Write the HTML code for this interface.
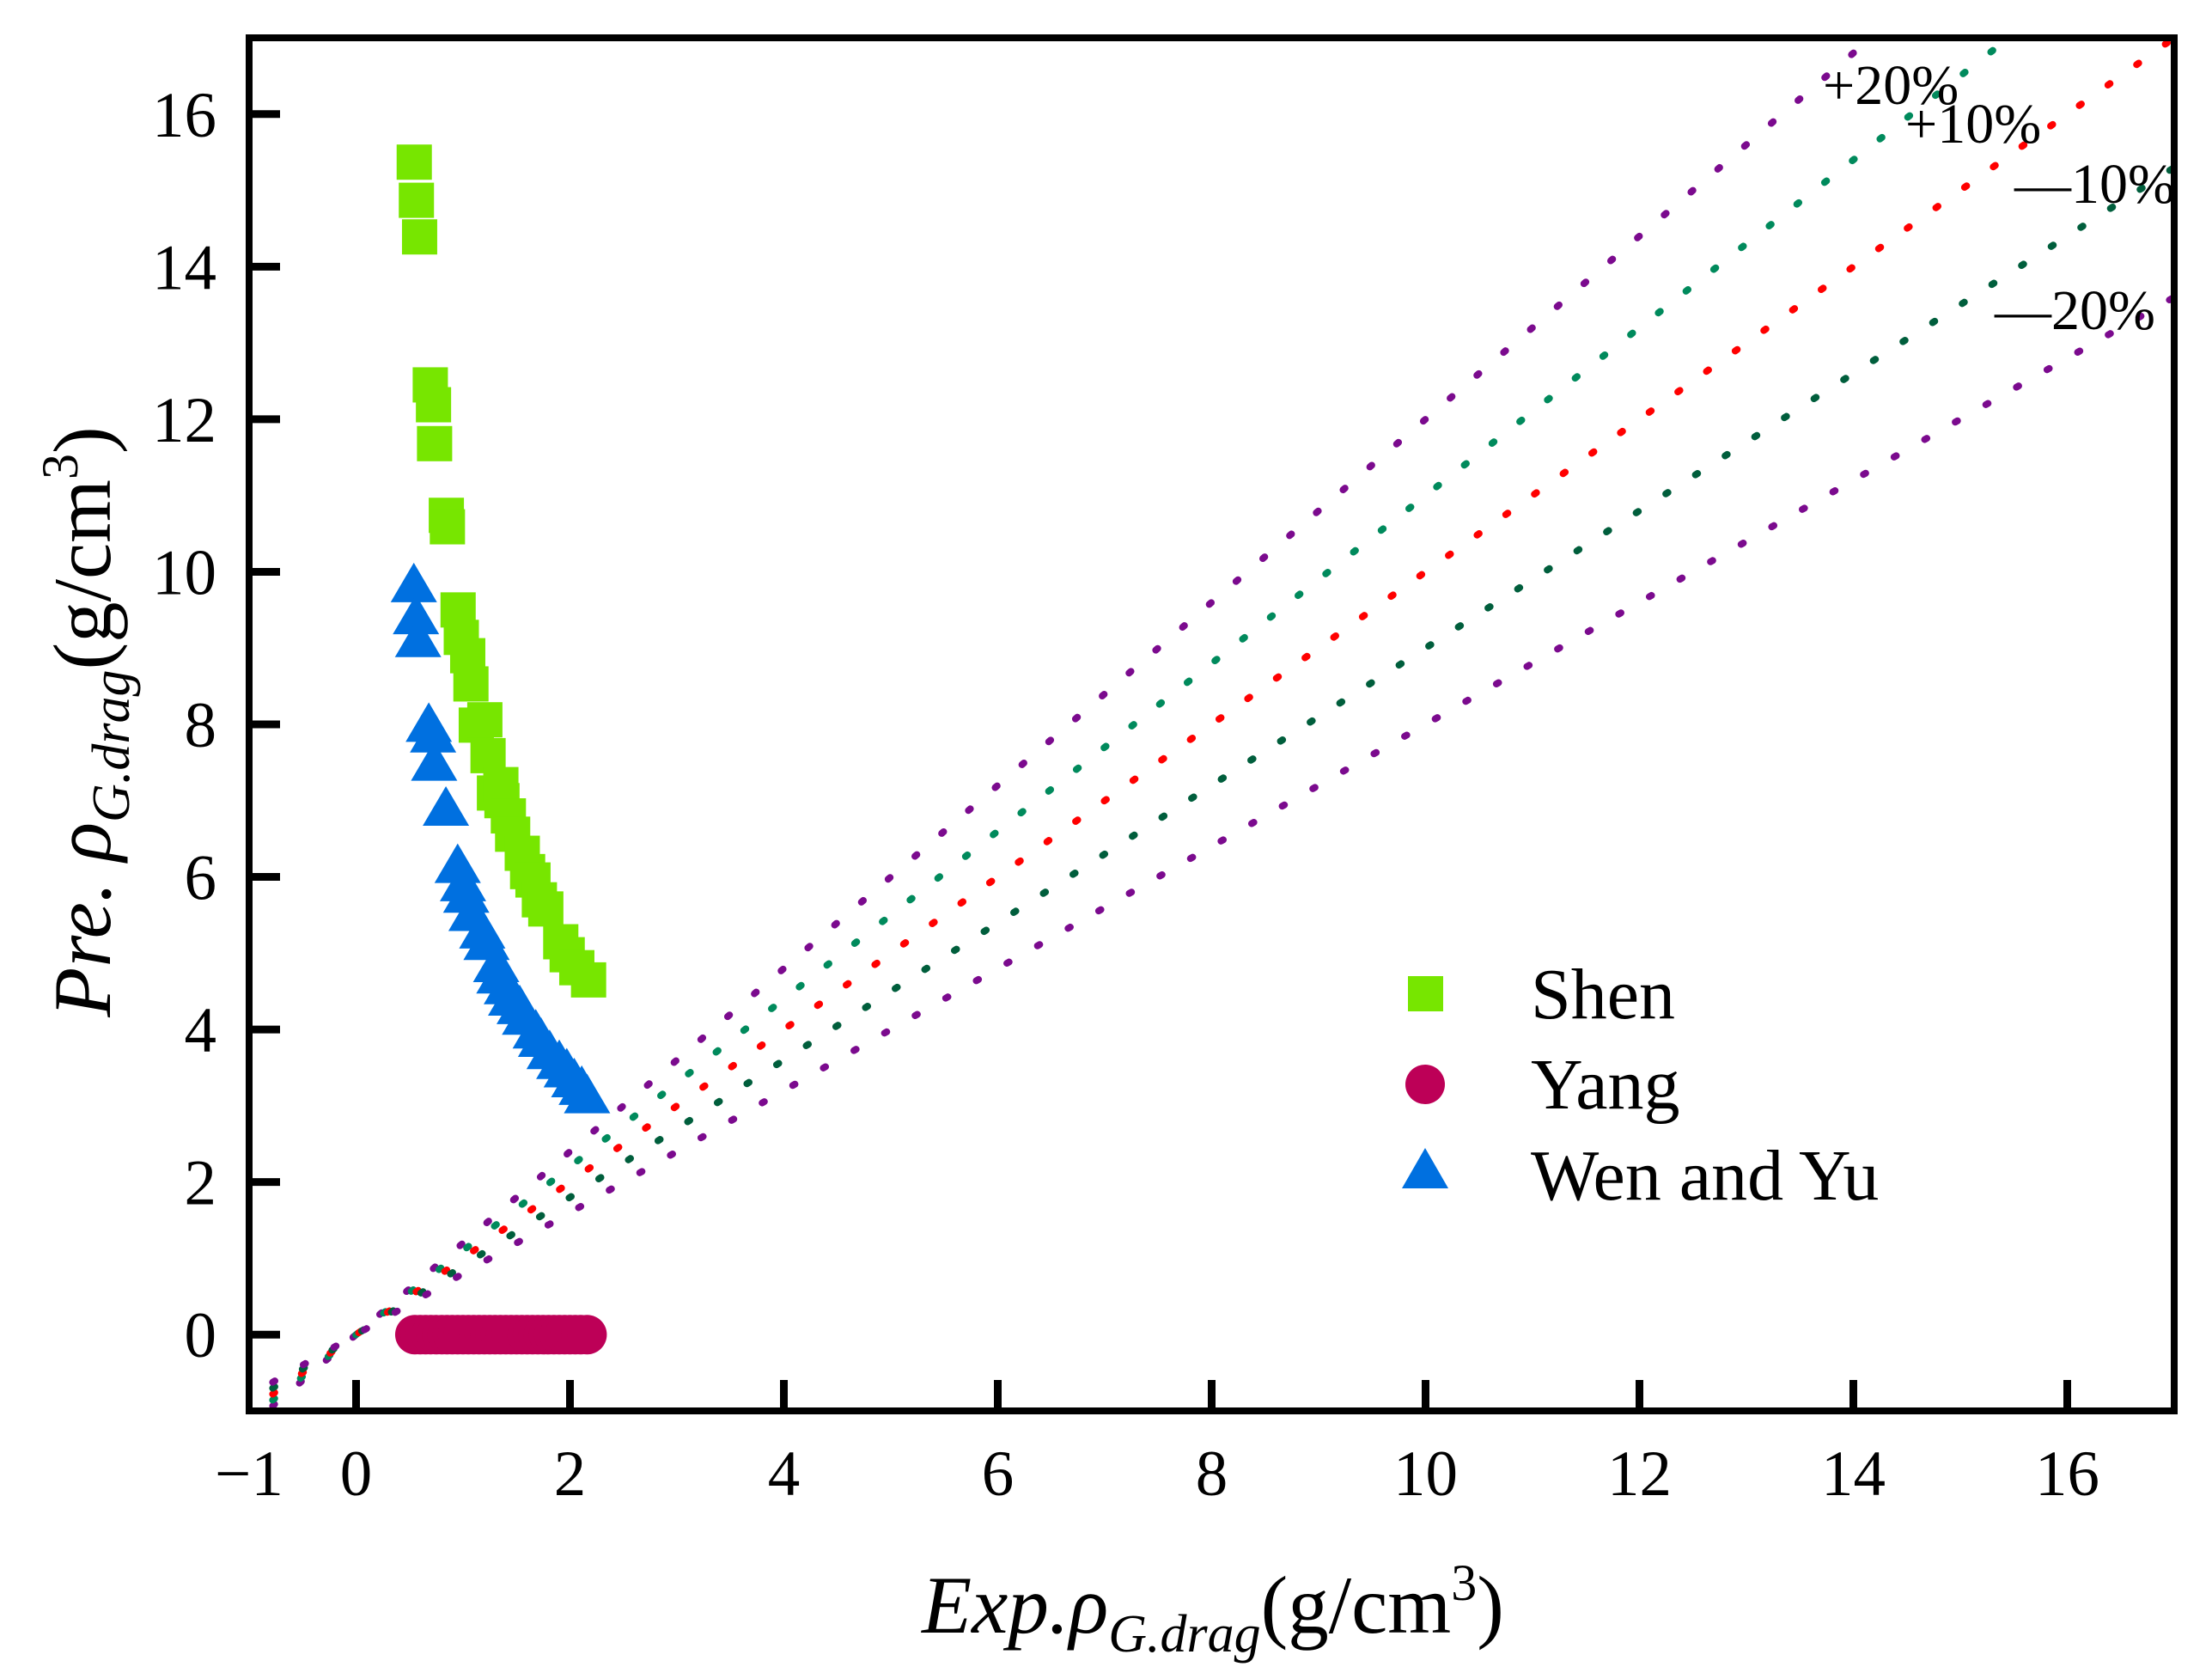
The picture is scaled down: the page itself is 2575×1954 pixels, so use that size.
<!DOCTYPE html>
<html><head><meta charset="utf-8"><style>
html,body{margin:0;padding:0;background:#fff;}
svg{display:block;font-family:"Liberation Serif",serif;}
</style></head><body>
<svg id="chart" width="2575" height="1954" viewBox="0 0 2575 1954" xmlns="http://www.w3.org/2000/svg">
<defs><clipPath id="plotclip"><rect x="290" y="44" width="2241" height="1598"/></clipPath></defs>
<g id="reflines" clip-path="url(#plotclip)"></g>
<g id="marks"></g>
<g id="axes"></g>
<text x="2122" y="121" font-size="66">+20%</text>
<text x="2218" y="166" font-size="66">+10%</text>
<text x="2345" y="236" font-size="66">—10%</text>
<text x="2322" y="383" font-size="66">—20%</text>
<g>
<rect x="1639" y="1136" width="41" height="41" fill="#77e600"/>
<text x="1782" y="1185" font-size="84">Shen</text>
<ellipse cx="1659" cy="1262" rx="23" ry="23" fill="#bd0057"/>
<text x="1782" y="1290" font-size="84">Yang</text>
<polygon points="1659,1336 1686,1383 1632,1383" fill="#0070e0"/>
<text x="1782" y="1396" font-size="84">Wen and Yu</text>
</g>
<text x="1412" y="1900" font-size="95" text-anchor="middle"><tspan font-style="italic">Exp.ρ</tspan><tspan font-style="italic" font-size="62" dy="22">G.drag</tspan><tspan dy="-22">(g/cm</tspan><tspan font-size="60" dy="-38">3</tspan><tspan dy="38">)</tspan></text>
<text transform="translate(128,840) rotate(-90)" font-size="95" text-anchor="middle"><tspan font-style="italic">Pre. ρ</tspan><tspan font-style="italic" font-size="62" dy="22">G.drag</tspan><tspan dy="-22">(g/cm</tspan><tspan font-size="60" dy="-38">3</tspan><tspan dy="38">)</tspan></text>
</svg>
<script>
const xTicks = [-1,0,2,4,6,8,10,12,14,16];
const xTickLabels = ["−1","0","2","4","6","8","10","12","14","16"];
const yTicks = [0,2,4,6,8,10,12,14,16];
const yTickLabels = ["0","2","4","6","8","10","12","14","16"];
const refFactors = [1.2,1.1,1.0,0.9,0.8];
const refColors = ["#7b0a8e","#008a5c","#ff0000","#005e3c","#7b0a8e"];
const shenX = [0.54,0.56,0.59,0.69,0.72,0.73,0.84,0.85,0.95,0.98,1.04,1.07,1.12,1.20,1.23,1.29,1.35,1.36,1.42,1.46,1.55,1.60,1.65,1.71,1.77,1.91,1.97,2.06,2.17];
const shenY = [15.37,14.87,14.39,12.45,12.19,11.68,10.74,10.59,9.50,9.14,8.90,8.53,7.99,8.06,7.59,7.10,7.21,7.00,6.80,6.56,6.31,6.07,5.96,5.70,5.58,5.15,4.98,4.81,4.65];
const yangX = [0.55,0.60,0.65,0.70,0.75,0.80,0.85,0.90,0.95,1.00,1.05,1.10,1.15,1.20,1.25,1.30,1.35,1.40,1.45,1.50,1.55,1.60,1.65,1.70,1.75,1.80,1.85,1.90,1.95,2.00,2.05,2.10,2.16];
const yangY = [0,0,0,0,0,0,0,0,0,0,0,0,0,0,0,0,0,0,0,0,0,0,0,0,0,0,0,0,0,0,0,0,0];
const wenX = [0.54,0.56,0.58,0.68,0.72,0.73,0.84,0.95,1.00,1.03,1.08,1.18,1.22,1.31,1.34,1.41,1.45,1.53,1.58,1.68,1.73,1.81,1.90,1.97,2.04,2.11,2.16];
const wenY = [9.86,9.44,9.14,8.03,7.89,7.52,6.93,6.18,5.94,5.79,5.55,5.32,5.17,4.88,4.73,4.59,4.44,4.33,4.19,4.01,3.90,3.74,3.61,3.50,3.37,3.27,3.16];

const X0=290, X1=2531, Y0=1642, Y1=44, xmin=-1, xmax=17, ymin=-1, ymax=17;
function sx(v){return X0+(v-xmin)/(xmax-xmin)*(X1-X0);}
function sy(v){return Y0-(v-ymin)/(ymax-ymin)*(Y0-Y1);}
const NS="http://www.w3.org/2000/svg";
function mk(tag,attrs,parent){const e=document.createElementNS(NS,tag);for(const k in attrs)e.setAttribute(k,attrs[k]);parent.appendChild(e);return e;}
const ref=document.getElementById('reflines'), marks=document.getElementById('marks'), axes=document.getElementById('axes');
refFactors.forEach((f,i)=>{
  const l=mk('line',{x1:sx(-0.78),y1:sy(-0.78*f),x2:sx(17.5),y2:sy(17.5*f),stroke:refColors[i],'stroke-width':8,'stroke-linecap':'round','stroke-dasharray':'3 38'},ref);
  
  
});
yangX.forEach((v,i)=>{
  const c=mk('ellipse',{cx:sx(v),cy:sy(yangY[i]),rx:23,ry:23,fill:'#bd0057'},marks);
  
  
});
wenX.forEach((v,i)=>{
  const x=sx(v), y=sy(wenY[i]);
  const p=mk('polygon',{points:`${x},${y-23} ${x+27},${y+23} ${x-27},${y+23}`,fill:'#0070e0'},marks);
  
  
});
shenX.forEach((v,i)=>{
  const r=mk('rect',{x:sx(v)-20,y:sy(shenY[i])-20.5,width:41,height:41,fill:'#77e600'},marks);
  
  
});
const fr=mk('rect',{x:X0,y:Y1,width:X1-X0,height:Y0-Y1,fill:'none',stroke:'#000','stroke-width':8},axes);


xTicks.forEach((v,i)=>{
  const x=sx(v);
  if(v>xmin){const t=mk('line',{x1:x,y1:Y0,x2:x,y2:Y0-36,stroke:'#000','stroke-width':9},axes);
  
  }
  const tx=mk('text',{x:x,y:1740,'font-size':75,'text-anchor':'middle'},axes);
  tx.textContent=xTickLabels[i];
  
  
});
yTicks.forEach((v,i)=>{
  const y=sy(v);
  const t=mk('line',{x1:X0,y1:y,x2:X0+36,y2:y,stroke:'#000','stroke-width':9},axes);
  
  
  const tx=mk('text',{x:252,y:y+26,'font-size':75,'text-anchor':'end'},axes);
  tx.textContent=yTickLabels[i];
  
  
});
</script>
</body></html>
